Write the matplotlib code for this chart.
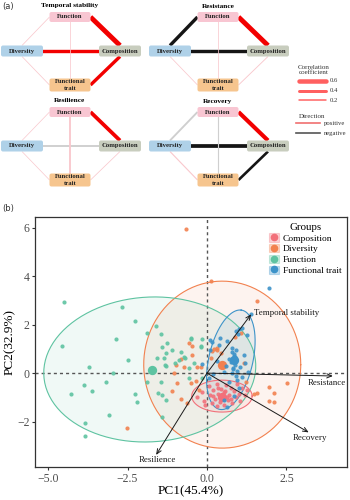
import numpy as np
import matplotlib.pyplot as plt
from matplotlib.patches import FancyBboxPatch, Patch
from matplotlib.lines import Line2D

plt.rcParams['font.family'] = ['Liberation Serif', 'DejaVu Serif']

# ---------------- panel (a) data: correlation networks ----------------
net_titles = ["Temporal stability", "Resistance", "Resilience", "Recovery"]
# edges: Div-Func, Func-Comp, Div-Comp, Func-FT, Div-FT, Comp-FT
edge_names = [("Diversity", "Function"), ("Function", "Composition"),
              ("Diversity", "Composition"), ("Function", "Functional\ntrait"),
              ("Diversity", "Functional\ntrait"), ("Composition", "Functional\ntrait")]
r_temporal = [0.10, 0.65, 0.45, 0.10, 0.10, 0.45]
r_resistance = [-0.45, 0.65, -0.45, 0.10, 0.10, 0.12]
r_resilience = [0.05, 0.50, -0.25, 0.25, 0.05, 0.10]
r_recovery = [-0.25, 0.55, -0.50, -0.15, 0.15, -0.35]
sig_temporal = [0, 1, 1, 0, 0, 1]
sig_resistance = [1, 1, 1, 0, 0, 0]
sig_resilience = [0, 1, 0, 0, 0, 0]
sig_recovery = [0, 1, 1, 0, 0, 1]
legend_r = [0.6, 0.4, 0.2]

# ---------------- panel (b) data: PCA ----------------
groups = ["Composition", "Diversity", "Function", "Functional trait"]
group_colors = ["#F2707A", "#F2814F", "#5EC3A1", "#3D93C9"]

comp_x = [-0.30, -0.15, -0.10, 0.05, 0.10, 0.15, 0.20, 0.25, 0.30, 0.35, 0.40, 0.45,
          0.50, 0.55, 0.55, 0.60, 0.65, 0.70, 0.75, 0.80, 0.85, 0.90, 0.95, 1.00,
          1.05, 1.10, 1.20, 1.25, -0.05, 0.30, 0.62, 0.40, 0.20, 0.75, 0.35, 0.58]
comp_y = [-1.00, -0.80, -1.15, -0.55, -0.90, -1.25, -0.70, -1.05, -0.45, -0.85, -1.20, -0.65,
          -1.00, -1.30, -0.80, -0.50, -1.10, -0.90, -0.60, -1.25, -0.75, -1.00, -0.45, -0.85,
          -1.15, -0.60, -0.90, -0.70, -1.30, -1.35, -1.00, -0.95, -0.95, -1.05, -0.60, -0.75]

div_x = [-0.66, 0.13, 1.58, 0.89, 1.07, 0.32, -0.57, -0.47, -0.82, -0.19, 0.15, 0.30,
         0.45, 0.22, -0.98, -0.73, -0.32, -0.95, -0.35, -0.25, -0.82, -0.63, -1.10, -1.04,
         -0.51, 2.53, 1.96, 2.12, 1.96, 2.12, 1.58, 1.23, 1.49, 1.17, 0.13, -2.53, -0.47]
div_y = [5.94, 3.79, 2.97, 1.48, 1.65, 1.03, 1.24, 0.74, 0.58, 0.25, 0.90, 0.95,
         0.85, 1.00, 0.33, 0.25, 0.25, -0.41, -0.33, -0.70, -1.07, -1.24, -0.74, 0.00,
         -0.41, -0.41, -0.58, -0.82, -1.15, -1.20, -0.82, -0.37, -0.87, 0.41, 0.62, -2.27, 1.11]

func_x = [-4.49, -2.66, -2.25, -2.85, -4.56, -1.90, -1.61, -1.46, -1.42, -1.27, -2.47, -1.58,
          -1.36, -1.30, -3.70, -2.97, -3.17, -3.88, -4.28, -3.62, -2.26, -2.19, -3.07, -3.83,
          -3.83, -1.90, -1.46, -1.55, -1.42, -1.30, -1.42, -1.33, -1.10, -1.30, -1.01, -0.70,
          -0.57, -0.51, -0.19, -0.16, -0.50, -0.19, -0.73, -0.82, -0.89, -0.41, -0.57, -0.16]
func_y = [2.93, 2.72, 2.14, 1.40, 1.11, 1.65, 1.96, 1.61, 1.07, 1.26, 0.56, 0.62,
          0.62, 0.82, 0.25, 0.00, -0.37, -0.50, -0.88, -0.74, -0.87, -1.20, -1.73, -2.06,
          -2.60, -0.37, -0.37, -0.82, -0.91, -1.10, -1.80, 0.33, 0.95, 0.29, 0.41, 0.62,
          0.20, 1.40, 1.11, 1.40, 1.44, 1.07, 0.66, 0.87, 0.54, 0.41, -0.20, -0.20]

ft_x = [1.96, 1.39, 0.92, 1.10, 1.27, 0.38, 0.16, 0.10, 0.10, 0.41, 0.63, 1.01,
        0.98, 0.80, 0.85, 0.90, 0.75, 0.88, 0.82, 0.95, 0.78, 0.90, 0.85, 0.92,
        1.20, -0.16, 0.70, 0.60, 1.05, 0.05, 0.20, 1.30, 0.54, 0.63, 0.85, 1.00,
        0.70, 0.95, 1.10, 0.30, 0.55, 0.80, 1.15, 0.88, 0.83]
ft_y = [3.50, 2.43, 1.73, 1.86, 1.57, 1.15, 1.28, 0.95, 1.36, 1.44, 1.32, 1.81,
        1.61, 0.87, 0.70, 0.55, 0.45, 0.35, 0.20, 0.10, 0.00, -0.10, 0.80, 0.95,
        0.41, 0.37, 0.60, 0.30, 0.25, -0.20, -0.05, 0.05, -1.10, -1.40, -0.95, -0.60,
        -0.35, -0.30, -0.15, 0.50, 0.05, 1.05, 0.75, 0.65, 0.15]

group_x = [comp_x, div_x, func_x, ft_x]
group_y = [comp_y, div_y, func_y, ft_y]
centroid_x = [0.47, 0.47, -1.74, 0.85]
centroid_y = [-1.00, 0.33, 0.12, 0.55]

# confidence ellipses: centre, semi-axes, angle (deg, data space)
ell_cx = [0.47, 0.48, -1.80, 0.75]
ell_cy = [-0.95, 0.35, 0.15, 0.55]
ell_a = [0.95, 2.47, 3.35, 2.08]
ell_b = [0.66, 3.45, 2.98, 0.70]
ell_ang = [0, 0, 12, 81]

load_names = ["Temporal stability", "Resistance", "Recovery", "Resilience"]
load_x = [1.39, 3.96, 3.20, -1.60]
load_y = [2.43, -0.12, -2.45, -3.38]

fig = plt.figure(figsize=(3.5, 5), dpi=100)

# ================= panel (a) =================
ax_a = fig.add_axes([0, 0.58, 1, 0.42])
ax_a.set_xlim(0, 350)
ax_a.set_ylim(210, 0)
ax_a.axis('off')

node_pos = {"Diversity": (22, 51), "Function": (70, 17),
            "Composition": (120, 51), "Functional\ntrait": (70, 85)}
node_size = {"Diversity": (42, 11), "Function": (41, 10),
             "Composition": (42, 11), "Functional\ntrait": (41, 13)}
node_col = {"Diversity": "#AFD1E8", "Function": "#F8C6D2",
            "Composition": "#C8CDBE", "Functional\ntrait": "#F6C58E"}
offsets = [(0, 0), (148, 0), (0, 95), (148, 95)]
all_r = [r_temporal, r_resistance, r_resilience, r_recovery]
all_sig = [sig_temporal, sig_resistance, sig_resilience, sig_recovery]


def endpoints(a, b, ox, oy):
    (ax_, ay_), (bx_, by_) = node_pos[a], node_pos[b]
    wa, ha = node_size[a]
    wb, hb = node_size[b]
    pair = (a, b)
    if pair == ("Diversity", "Function"):
        p, q = (ax_, ay_ - ha / 2), (bx_ - wb / 2, by_)
    elif pair == ("Function", "Composition"):
        p, q = (ax_ + wa / 2, ay_), (bx_, by_ - hb / 2)
    elif pair == ("Diversity", "Functional\ntrait"):
        p, q = (ax_, ay_ + ha / 2), (bx_ - wb / 2, by_)
    elif pair == ("Composition", "Functional\ntrait"):
        p, q = (ax_, ay_ + ha / 2), (bx_ + wb / 2, by_)
    else:
        p, q = (ax_, ay_), (bx_, by_)
    return [p[0] + ox, q[0] + ox], [p[1] + oy, q[1] + oy]


for k in range(4):
    ox, oy = offsets[k]
    ax_a.text(70 + ox, 6 + oy, net_titles[k], ha='center', va='center',
              fontsize=5.3, fontweight='bold')
    for (a, b), r, s in zip(edge_names, all_r[k], all_sig[k]):
        if s:
            col = "#F20000" if r > 0 else "#151515"
        else:
            col = "#F9C8CD" if r > 0 else "#CFCFCF"
        xs, ys = endpoints(a, b, ox, oy)
        ax_a.plot(xs, ys, color=col, lw=max(5.4 * abs(r), 0.5),
                  solid_capstyle='butt', zorder=1)
    for name, (nx, ny) in node_pos.items():
        w, h = node_size[name]
        box = FancyBboxPatch((nx + ox - w / 2, ny + oy - h / 2), w, h,
                             boxstyle="round,pad=0,rounding_size=2",
                             fc=node_col[name], ec='none', zorder=3)
        ax_a.add_patch(box)
        ax_a.text(nx + ox, ny + oy, name, ha='center', va='center',
                  fontsize=4.8, fontweight='bold', color='#222222',
                  linespacing=1.3, zorder=4)

ax_a.text(2, 6, "(a)", fontsize=6, family='DejaVu Sans', va='center', color='#333333')
ax_a.text(2, 208, "(b)", fontsize=6, family='DejaVu Sans', va='center', color='#333333')

# correlation legend
ax_a.text(314, 70, "Correlation\ncoefficient", ha='center', va='center',
          fontsize=5, linespacing=1.1, color='#333333')
for i, r in enumerate(legend_r):
    yy = 81 + i * 9.5
    ax_a.plot([299, 326], [yy, yy], color='#FF6060', lw=5.4 * r,
              solid_capstyle='round')
    ax_a.text(330, yy, f"{r}", fontsize=4.8, va='center', color='#333333')
ax_a.text(312, 117, "Direction", ha='center', va='center', fontsize=5, color='#333333')
ax_a.plot([296, 320], [123, 123], color='#F07070', lw=1.2)
ax_a.plot([296, 320], [133, 133], color='#555555', lw=1.2)
ax_a.text(324, 123, "positive", fontsize=4.8, va='center', color='#333333')
ax_a.text(324, 133, "negative", fontsize=4.8, va='center', color='#333333')

# ================= panel (b) =================
ax = fig.add_axes([0.1, 0.066, 0.891, 0.5])
t = np.linspace(0, 2 * np.pi, 200)
for i in range(4):
    th = np.deg2rad(ell_ang[i])
    ex = ell_cx[i] + ell_a[i] * np.cos(t) * np.cos(th) - ell_b[i] * np.sin(t) * np.sin(th)
    ey = ell_cy[i] + ell_a[i] * np.cos(t) * np.sin(th) + ell_b[i] * np.sin(t) * np.cos(th)
    ax.fill(ex, ey, color=group_colors[i], alpha=0.09, lw=0, zorder=1)
    ax.plot(ex, ey, color=group_colors[i], lw=0.8, zorder=2)

ax.axhline(0, color='#555555', lw=1.0, ls=(0, (2.2, 2.2)), zorder=1.5)
ax.axvline(0, color='#555555', lw=1.0, ls=(0, (2.2, 2.2)), zorder=1.5)

for i in range(4):
    ax.scatter(group_x[i], group_y[i], s=9, color=group_colors[i],
               alpha=0.9, lw=0, zorder=3)
    ax.scatter(centroid_x[i], centroid_y[i], s=45, color=group_colors[i],
               lw=0, zorder=3)

for name, lx, ly in zip(load_names, load_x, load_y):
    ax.annotate("", xy=(lx, ly), xytext=(0, 0),
                arrowprops=dict(arrowstyle='->,head_length=0.35,head_width=0.15',
                                color='#1a1a1a', lw=0.7, shrinkA=0, shrinkB=0),
                zorder=4)
label_off = {"Temporal stability": ((2, 1), 'left', 'center'),
             "Resistance": ((-4, -2), 'center', 'top'),
             "Recovery": ((1, -1), 'center', 'top'),
             "Resilience": ((1, -1), 'center', 'top')}
for name, lx, ly in zip(load_names, load_x, load_y):
    off, ha, va = label_off[name]
    ax.annotate(name, xy=(lx, ly), xytext=off, textcoords='offset points',
                ha=ha, va=va, fontsize=6.4, color='#1a1a1a', zorder=5)

ax.set_xlim(-5.41, 4.4)
ax.set_ylim(-3.88, 6.45)
ax.set_xticks([-5.0, -2.5, 0.0, 2.5])
ax.set_xticklabels(["\u22125.0", "\u22122.5", "0.0", "2.5"])
ax.set_yticks([-2, 0, 2, 4, 6])
ax.set_yticklabels(["\u22122", "0", "2", "4", "6"])
ax.tick_params(labelsize=8.5, colors='#333333', labelcolor='#4d4d4d',
               length=2.5, width=0.8, pad=1.5)
for sp in ax.spines.values():
    sp.set_color('#333333')
    sp.set_linewidth(0.9)
ax.set_xlabel("PC1(45.4%)", fontsize=9.5)
ax.xaxis.set_label_coords(0.5, -0.072)
ax.set_ylabel("PC2(32.9%)", fontsize=9.5, labelpad=1)

handles = [(Patch(fc=c, ec=c, alpha=0.3, lw=0.8),
            Line2D([], [], marker='o', ls='', color=c, ms=4.5)) for c in group_colors]
leg = ax.legend(handles, groups, title="Groups", loc='upper right',
                frameon=False, fontsize=6.8, title_fontsize=7.8,
                handlelength=1.0, handleheight=1.0, handletextpad=0.4,
                labelspacing=0.15, borderaxespad=0.2)

fig.savefig("out.png", dpi=100)
